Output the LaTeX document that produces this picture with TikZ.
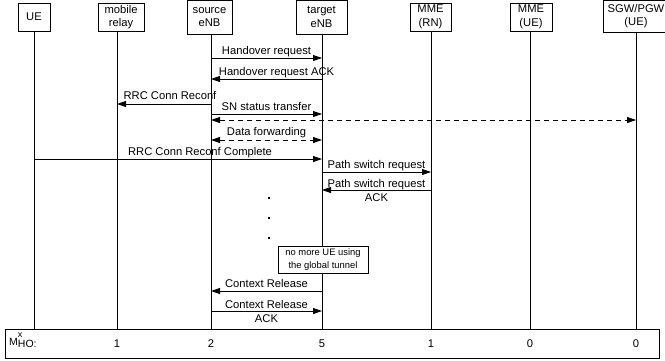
\documentclass[tikz,border=0pt]{standalone}
\usepackage{fontspec}
\setmainfont{Liberation Sans}
\usetikzlibrary{arrows.meta}
\tikzset{
  entity/.style={draw, line width=0.8pt, align=center, inner sep=0pt, font=\fontsize{11.2}{13.5}\selectfont},
  lifeline/.style={line width=0.8pt},
  msg/.style={line width=0.8pt, -{Triangle[length=9pt,width=6pt]}},
  dmsg/.style={line width=0.8pt, {Triangle[length=9pt,width=6pt]}-{Triangle[length=9pt,width=6pt]}, dash pattern=on 5pt off 4pt},
  lbl/.style={anchor=base, inner sep=0pt, font=\fontsize{11.2}{13.5}\selectfont},
  lbltwo/.style={align=center, inner sep=0pt, font=\fontsize{11.2}{14}\selectfont},
  note/.style={draw, fill=white, line width=0.8pt, align=center, inner sep=0pt, font=\fontsize{9.4}{12.5}\selectfont},
}

\begin{document}
\begin{tikzpicture}[x=1pt,y=-1pt]
			%%%%% START %%%%%
			\useasboundingbox (0,0) rectangle (665,360);
			\clip (0,0) rectangle (665,360);
			
			\node[entity, minimum width=32pt, minimum height=28pt] (ue) at (34,17) {UE};
			\node[entity, minimum width=46pt, minimum height=28pt] (relay) at (121,17) {mobile\\relay};
			\node[entity, minimum width=45pt, minimum height=34pt] (src) at (209.5,17) {source\\eNB};
			\node[entity, minimum width=51pt, minimum height=34pt] (tgt) at (321.5,17) {target\\eNB};
			\node[entity, minimum width=41pt, minimum height=28pt] (mmern) at (430.5,17) {MME\\(RN)};
			\node[entity, minimum width=42pt, minimum height=28pt] (mmeue) at (531,17) {MME\\(UE)};
			\node[entity, minimum width=66pt, minimum height=32pt] (gw) at (636,16) {SGW/PGW\\(UE)};
			
			\node[draw, line width=0.8pt, minimum width=654pt, minimum height=29pt, inner sep=0pt] (tab) at (332,343.5) {};
			
			% lifelines
			\coordinate (ueL) at (34,31);
			\coordinate (relayL) at (117,31);
			\coordinate (srcL) at (211,34);
			\coordinate (tgtL) at (322,34);
			\coordinate (mmernL) at (431,31);
			\coordinate (mmeueL) at (530,31);
			\coordinate (gwL) at (636,32);
			\draw[lifeline] (ueL) -- (ueL |- tab.north);
			\draw[lifeline] (relayL) -- (relayL |- tab.north);
			\draw[lifeline] (srcL) -- (srcL |- tab.north);
			\draw[lifeline] (tgtL) -- (tgtL |- tab.north);
			\draw[lifeline] (mmernL) -- (mmernL |- tab.north);
			\draw[lifeline] (mmeueL) -- (mmeueL |- tab.north);
			\draw[lifeline] (gwL) -- (gwL |- tab.north);
			
			% messages
			\draw[msg] (srcL |- 0,58) -- node[lbl, yshift=4pt] {Handover request} (tgtL |- 0,58);
			\draw[msg] (tgtL |- 0,79) -- node[lbl, yshift=4pt, xshift=10pt] {Handover request ACK} (srcL |- 0,79);
			\draw[msg] (srcL |- 0,104) -- node[lbl, yshift=5pt, xshift=6pt] {RRC Conn Reconf} (relayL |- 0,104);
			\draw[msg] (srcL |- 0,114) -- node[lbl, yshift=4pt] {SN status transfer} (tgtL |- 0,114);
			\draw[dmsg] (srcL |- 0,120) -- (gwL |- 0,120);
			\draw[dmsg] (srcL |- 0,140) -- node[lbl, yshift=5pt] {Data forwarding} (tgtL |- 0,140);
			\draw[msg] (ueL |- 0,159) -- node[lbl, yshift=4pt, xshift=22pt] {RRC Conn Reconf Complete} (tgtL |- 0,159);
			\draw[msg] (tgtL |- 0,172) -- node[lbl, yshift=4pt] {Path switch request} (mmernL |- 0,172);
			\draw[msg] (mmernL |- 0,190) -- node[lbltwo] {Path switch request\\ACK} (tgtL |- 0,190);
			
			\foreach \y in {198,218,238}
				\fill (268,\y-1) rectangle (270,\y+1);
			
			\node[note, minimum width=90pt, minimum height=27pt] (tunnel) at (323,259.5) {no more UE using\\the global tunnel};
			
			\draw[msg] (tgtL |- 0,291) -- node[lbl, yshift=4pt] {Context Release} (srcL |- 0,291);
			\draw[msg] (srcL |- 0,311) -- node[lbltwo] {Context Release\\ACK} (tgtL |- 0,311);
			
			% M_HO row
			\node[lbl, anchor=base west, font=\fontsize{10.5}{12}\selectfont] (mho) at (9,345) {M\rlap{\raisebox{8pt}{\fontsize{9}{9}\selectfont x}}\raisebox{-2pt}{HO:}};
			\node[lbl] (n1) at (relayL |- 0,347) {1};
			\node[lbl] (n2) at (srcL |- 0,347) {2};
			\node[lbl] (n3) at (tgtL |- 0,347) {5};
			\node[lbl] (n4) at (mmernL |- 0,347) {1};
			\node[lbl] (n5) at (mmeueL |- 0,347) {0};
			\node[lbl] (n6) at (gwL |- 0,347) {0};
			%%%%% END %%%%%
\end{tikzpicture}
\end{document}
